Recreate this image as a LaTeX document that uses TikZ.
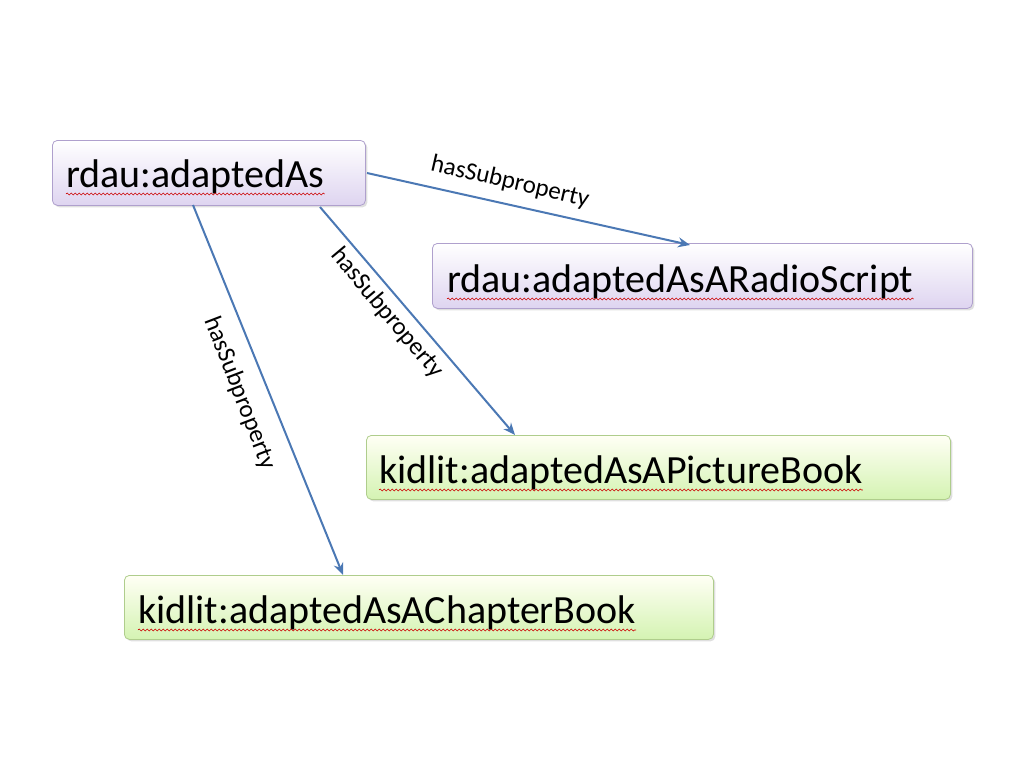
\documentclass[tikz,border=0pt]{standalone}
\usepackage{fontspec}
\setmainfont{Carlito}
\usetikzlibrary{decorations.pathmorphing,shadows,arrows.meta}
\definecolor{pb}{RGB}{175,160,205}
\definecolor{gb}{RGB}{175,205,140}
\definecolor{pf}{RGB}{222,212,240}
\definecolor{gf}{RGB}{212,243,178}
\definecolor{ar}{RGB}{75,120,180}
\begin{document}
\begin{tikzpicture}[x=1pt,y=-1pt,
 box/.style={rounded corners=5pt,line width=0.8pt,drop shadow={opacity=0.25,shadow xshift=2pt,shadow yshift=-2pt}},
 purp/.style={box,draw=pb,top color=white,bottom color=pf},
 gren/.style={box,draw=gb,top color=white!96!yellow,bottom color=gf},
 txt/.style={inner sep=0pt,anchor=base west,font=\fontsize{40}{42}\selectfont},
 lab/.style={inner sep=1pt,font=\fontsize{25}{26}\selectfont},
 sq/.style={draw=red!80!black,line width=0.6pt,decorate,decoration={snake,amplitude=1pt,segment length=4pt}},
 arr/.style={draw=ar,line width=2pt,-{Stealth[length=12pt,width=10pt]}}]
\useasboundingbox (0,0) rectangle (1024,768);
\node[purp,minimum width=313,minimum height=65,anchor=north west] (a) at (52,140) {};
\node[purp,minimum width=540,minimum height=65,anchor=north west] (r) at (432,243) {};
\node[gren,minimum width=584,minimum height=64,anchor=north west] (p) at (366,435) {};
\node[gren,minimum width=589,minimum height=64,anchor=north west] (c) at (124,575) {};
\node[txt] (ta) at (66,187) {rdau:adaptedAs};
\node[txt] (tr) at (447,292) {rdau:adaptedAsARadioScript};
\node[txt] (tp) at (379,483) {kidlit:adaptedAsAPictureBook};
\node[txt] (tc) at (138,623) {kidlit:adaptedAsAChapterBook};
\foreach \t in {ta,tr,tp,tc}{\draw[sq] ([yshift=-7]\t.base west) -- ([yshift=-7]\t.base east);}
\coordinate (s1) at (367,173); \coordinate (e1) at (690,245);
\coordinate (s2) at (320,207); \coordinate (e2) at (515,435);
\coordinate (s3) at (193,205); \coordinate (e3) at (343,575);
\draw[arr] (s1) -- (e1);
\draw[arr] (s2) -- (e2);
\draw[arr] (s3) -- (e3);
\node[lab,rotate=-13] (l1) at (510,182) {hasSubproperty};
\node[lab,rotate=-50] (l2) at (387,313) {hasSubproperty};
\node[lab,rotate=-69] (l3) at (240,393) {hasSubproperty};
\end{tikzpicture}
\end{document}
